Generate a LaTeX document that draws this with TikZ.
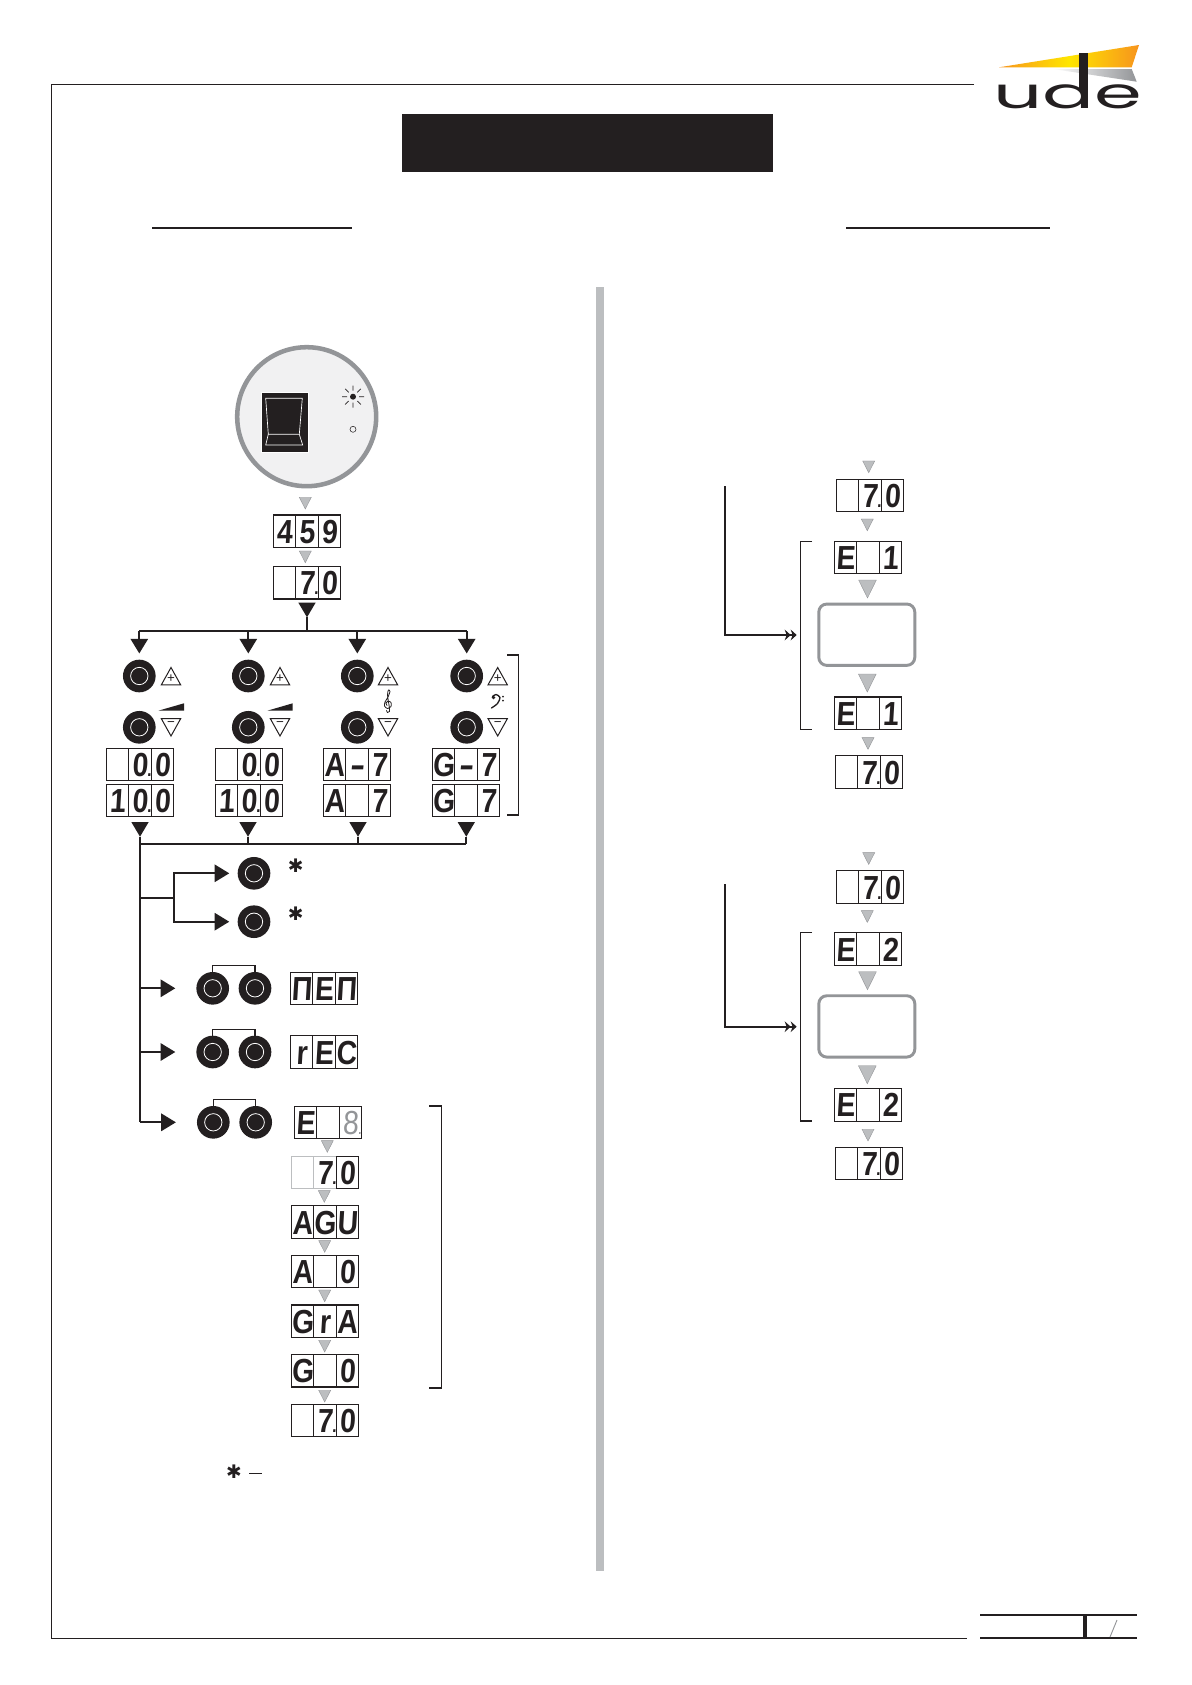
\documentclass[tikz,border=0pt]{standalone}
\usepackage{fontspec}
\setmainfont{Liberation Sans}
\newfontfamily\lcdfont[FakeSlant=0.06,FakeStretch=0.85]{Liberation Sans Bold}
\newfontfamily\lcdthin[FakeSlant=0.06,FakeStretch=0.85]{Liberation Sans}
\newfontfamily\symfont{DejaVu Sans}
\newfontfamily\logofont{Poppins}
\usetikzlibrary{positioning,shapes.geometric,arrows.meta}
\definecolor{ink}{HTML}{231F20}
\definecolor{barcol}{HTML}{BCBEC0}
\definecolor{midcol}{HTML}{939598}
\definecolor{discol}{HTML}{F1F1F2}
\definecolor{swooshend}{HTML}{F7941D}
\definecolor{swooshmid}{HTML}{FFE600}
% decimal point that sits on the cell edge
\newcommand{\lcdpoint}{\rlap{\kern-0.5pt\fontsize{14}{14}\selectfont .}}
% display of three cells: name, top left corner, three characters
\newcommand{\lcd}[6][cell]{%
    \node[#1, anchor=north west] (#2a) at #3 {#4};
    \node[#1, right=0pt of #2a] (#2b) {#5};
    \node[cell, right=0pt of #2b] (#2c) {#6};
}
% pair of buttons with their up and down keys: name, button x, key x
\newcommand{\keypair}[3]{%
    \node[btn] (#1up) at (#2,676) {};
    \node[btn] (#1dn) at (#2,727.3) {};
    \node[upkey, anchor=apex] (#1plus) at (#3,667.5) {};
    \node[sign] (#1plussign) at (#3,678.5) {+};
    \node[dnkey, anchor=apex] (#1minus) at (#3,736) {};
    \node[sign] (#1minussign) at (#3,724) {−};
}
% right hand block: name, vertical offset, number, start of the feed line
\newcommand{\eblock}[4]{%
    \begin{scope}[yshift=-#2*0.75pt]
    \node[graytri, anchor=apex] (#1t1) at (868.7,472.7) {};
    \lcd{#1start}{(836.3,479.2)}{}{7\lcdpoint}{0}
    \node[graytri, anchor=apex] (#1t2) at (867.3,530.7) {};
    \lcd{#1open}{(834.3,541.2)}{E}{}{#3}
    \node[biggray, anchor=apex] (#1t3) at (867.5,598) {};
    \node[panel] (#1panel) at (866.8,634.7) {};
    \node[biggray, anchor=apex] (#1t4) at (867.3,692) {};
    \lcd{#1close}{(834.3,697)}{E}{}{#3}
    \node[graytri, anchor=apex] (#1t5) at (868,749.3) {};
    \lcd{#1end}{(835.3,755.8)}{}{7\lcdpoint}{0}
    \coordinate (#1in) at (725,#4);
    \coordinate (#1tip) at (796.7,635);
    \draw[wire, line width=1.7pt, -{Stealth[length=4.5pt,width=8pt]Stealth[length=4.5pt,width=8pt]}] (#1in) |- (#1tip);
    \draw[bracket] (812,541.2) -- (800.7,541.2) -- (800.7,729.3) -- (812,729.3);
    \end{scope}
}
\begin{document}
\begin{tikzpicture}[
    x=0.75pt, y=-0.75pt,
    cell/.style={rectangle, draw=ink, line width=0.8pt, minimum width=16.85pt, minimum height=24.3pt, inner sep=0pt, outer sep=0pt, text height=18pt, text depth=0pt, text=ink, font=\lcdfont\fontsize{25}{25}\selectfont},
    graycell/.style={cell, draw=barcol},
    btn/.style={circle, fill=ink, minimum size=24.5pt, inner sep=0pt, outer sep=0pt, path picture={\draw[white, line width=0.6pt] (path picture bounding box.center) circle (6.5pt);}},
    tri/.style={isosceles triangle, isosceles triangle stretches, shape border rotate=270, inner sep=0pt, outer sep=0pt},
    graytri/.style={tri, fill=barcol, draw=midcol, line width=0.3pt, minimum width=9pt, minimum height=8.8pt},
    biggray/.style={tri, fill=barcol, draw=midcol, line width=0.3pt, minimum width=13.3pt, minimum height=13.5pt},
    blacktri/.style={tri, fill=ink, minimum width=13pt, minimum height=11pt},
    upkey/.style={isosceles triangle, isosceles triangle stretches, shape border rotate=90, inner sep=0pt, outer sep=0pt, draw=ink, line width=0.75pt, minimum width=14.5pt, minimum height=13pt},
    dnkey/.style={tri, draw=ink, line width=0.75pt, minimum width=14.5pt, minimum height=13pt},
    sign/.style={inner sep=0pt, text=ink, font=\fontsize{10}{10}\selectfont},
    star/.style={inner sep=0pt, text=ink, font=\symfont\bfseries\fontsize{14}{14}\selectfont},
    panel/.style={rectangle, rounded corners=6pt, draw=midcol, line width=2.2pt, minimum width=72pt, minimum height=46pt},
    wire/.style={draw=ink, line width=1.5pt},
    link/.style={draw=ink, line width=0.8pt},
    bracket/.style={draw=ink, line width=0.8pt},
    arrow/.style={draw=ink, line width=1.5pt, -{Triangle[length=11pt,width=13pt]}}
]
    \useasboundingbox (0,0) rectangle (1192,1685);
    \fill[white] (0,0) rectangle (1192,1685);

    % Page frame and headings
    \draw[ink, line width=0.7pt] (974,84) -- (51,84) -- (51,1638) -- (967,1638);
    \node[rectangle, fill=ink, minimum width=278.25pt, minimum height=43.5pt, inner sep=0pt] (title) at (587.5,143) {};
    \draw[ink, line width=2.1pt] (152,228) -- (351.5,228);
    \draw[ink, line width=2.1pt] (846,228) -- (1050,228);
    \fill[barcol] (595.5,287) rectangle (604,1571);

    % Logo
    \shade[left color=swooshend, right color=swooshend, middle color=swooshmid] (999,67.3) -- (1139,45) -- (1131.7,67.3) -- cycle;
    \shade[left color=white, right color=midcol] (1053,69) -- (1131.7,69) -- (1136.7,81.7) -- cycle;
    \node[inner sep=0pt, anchor=base, text=ink, font=\logofont\fontsize{32}{32}\selectfont] (logo) at (1068,108.3) {\scalebox{1.8}[1]{ude}};
    \fill[ink] (1079,52.7) rectangle (1088,90);

    % Footer
    \draw[ink, line width=0.8pt] (980,1615) -- (1137,1615);
    \draw[ink, line width=0.8pt] (980,1638) -- (1137,1638);
    \draw[ink, line width=3pt] (1085,1615) -- (1085,1638);
    \draw[midcol, line width=0.7pt] (1117,1620) -- (1110,1637);

    % Power switch
    \draw[midcol, fill=discol, line width=3.4pt] (306.7,416.7) circle (69.5);
    \node[rectangle, fill=ink, draw=white, line width=0.4pt, minimum width=35.25pt, minimum height=44.4pt, inner sep=0pt] (switch) at (284.5,422.3) {};
    \draw[white, line width=0.5pt] (265.7,398.3) -- (302.3,398.3) -- (299.3,434.3) -- (268.3,434.3) -- cycle;
    \draw[white, line width=0.5pt] (268.3,434.3) -- (265.7,445) -- (302.7,445) -- (299.3,434.3);
    \fill[ink] (353,396.7) circle (3);
    \draw[ink, line width=0.5pt] (342,396.7) -- ++(5,0) (359,396.7) -- ++(5,0) (353,385.7) -- ++(0,5) (353,402.7) -- ++(0,5)
        (345.2,388.9) -- ++(3.5,3.5) (357.3,401) -- ++(3.5,3.5) (345.2,404.5) -- ++(3.5,-3.5) (357.3,392.4) -- ++(3.5,-3.5);
    \draw[ink, line width=0.4pt] (353,429.3) circle (3);

    % Start up displays
    \node[graytri, anchor=apex] (upa) at (305.3,509) {};
    \lcd{bootfirst}{(273.3,515)}{4}{5}{9}
    \node[graytri, anchor=apex] (upb) at (305.3,562.7) {};
    \lcd{boot}{(273.3,566.6)}{}{7\lcdpoint}{0}
    \node[blacktri, anchor=apex] (bootdown) at (307,617.3) {};

    % Upper bus
    \coordinate (busmid) at (307,631);
    \coordinate (tapa) at (139.3,631);
    \coordinate (tapb) at (248.3,631);
    \coordinate (tapc) at (357.3,631);
    \coordinate (tapd) at (466.7,631);
    \draw[wire] (tapa) -- (tapd);
    \draw[wire] (bootdown.apex) -- (busmid);
    \draw[arrow, shorten >=4.7pt] (tapa) -- (tapa |- 0,659.7);
    \draw[arrow, shorten >=4.7pt] (tapb) -- (tapb |- 0,659.7);
    \draw[arrow, shorten >=4.7pt] (tapc) -- (tapc |- 0,659.7);
    \draw[arrow, shorten >=4.7pt] (tapd) -- (tapd |- 0,659.7);

    % Adjusting keys
    \keypair{vola}{139.3}{171}
    \keypair{volb}{248.3}{280}
    \keypair{treble}{357.3}{388}
    \keypair{bass}{466.7}{497.7}
    \fill[ink] (158.3,710.7) -- (184,710.7) -- (184,703.3) -- cycle;
    \fill[ink] (267.3,710.7) -- (292.7,710.7) -- (292.7,703.3) -- cycle;
    \draw[ink, line width=0.6pt, line cap=round] plot[smooth] coordinates {(386.5,710.5) (387.5,712.5) (389.5,711.5) (389.3,707) (387.5,695) (388.5,690) (390,691.5) (388,697) (385,702) (384.5,706) (387.5,708.5) (391,706.5) (391,702.5) (388,701) (386,703) (387,705.5)};
    \fill[ink] (493.5,697.5) circle (1.9);
    \draw[ink, line width=1pt, line cap=round] plot[smooth] coordinates {(492.5,696.5) (496,694.5) (500,697.5) (497.5,703.5) (491.5,708)};
    \fill[ink] (503,696.5) circle (1) (503,700.5) circle (1);
    \draw[bracket] (507.3,655) -- (518.3,655) -- (518.3,815) -- (507.3,815);

    % Level displays
    \lcd{lowa}{(106.3,748.3)}{}{0\lcdpoint}{0}
    \lcd{higha}{(106.3,784.3)}{1}{0\lcdpoint}{0}
    \lcd{lowb}{(215.3,748.3)}{}{0\lcdpoint}{0}
    \lcd{highb}{(215.3,784.3)}{1}{0\lcdpoint}{0}
    \lcd{lowc}{(323.3,748.3)}{A}{\scalebox{1.6}[1]{-}}{7}
    \lcd{highc}{(323.3,784.3)}{A}{}{7}
    \lcd{lowd}{(432.3,748.3)}{G}{\scalebox{1.6}[1]{-}}{7}
    \lcd{highd}{(432.3,784.3)}{G}{}{7}

    % Lower bus
    \node[blacktri, anchor=apex] (outa) at (140,836.7) {};
    \node[blacktri, anchor=apex] (outb) at (248,836.7) {};
    \node[blacktri, anchor=apex] (outc) at (358,836.7) {};
    \node[blacktri, anchor=apex] (outd) at (466.3,836.7) {};
    \coordinate (busa) at (140,843.7);
    \coordinate (busb) at (248,843.7);
    \coordinate (busc) at (358,843.7);
    \coordinate (busd) at (466.3,843.7);
    \draw[wire] (busa) -- (busd);
    \draw[wire] (outa.apex) -- (busa);
    \draw[wire] (outb.apex) -- (busb);
    \draw[wire] (outc.apex) -- (busc);
    \draw[wire] (outd.apex) -- (busd);
    \coordinate (trunkend) at (140,1122.3);
    \draw[wire] (busa) -- (trunkend);

    % Memory buttons
    \coordinate (fork) at (140,897.7);
    \coordinate (forkmid) at (173.7,897.7);
    \node[btn] (presetup) at (254,873.3) {};
    \node[btn] (presetdn) at (254,921.7) {};
    \node[star] (starup) at (295.7,865.5) {✱};
    \node[star] (stardn) at (295.7,913.5) {✱};
    \draw[wire] (fork) -- (forkmid);
    \draw[arrow, shorten >=6.3pt] (forkmid) |- (presetup);
    \draw[arrow, shorten >=6.3pt] (forkmid) |- (presetdn);

    \node[btn] (memleft) at (212.7,988.3) {};
    \node[btn] (memright) at (255,988.3) {};
    \coordinate (memtap) at (140,988.3);
    \draw[arrow, shorten >=15.8pt] (memtap) -- (memleft);
    \draw[link] (memleft) -- ++(0,-22.6) -| (memright);
    \lcd{memdisp}{(290.3,972.3)}{Π}{E}{Π}

    \node[btn] (recleft) at (212.7,1052) {};
    \node[btn] (recright) at (255,1052) {};
    \coordinate (rectap) at (140,1052);
    \draw[arrow, shorten >=15.8pt] (rectap) -- (recleft);
    \draw[link] (recleft) -- ++(0,-22.7) -| (recright);
    \lcd{recdisp}{(290.3,1035.9)}{r}{E}{C}

    \node[btn] (factleft) at (213.3,1122.3) {};
    \node[btn] (factright) at (255.7,1122.3) {};
    \draw[arrow, shorten >=15.8pt] (trunkend) -- (factleft);
    \draw[link] (factleft) -- ++(0,-23) -| (factright);

    % Reset sequence
    \lcd{seqa}{(294.3,1106.2)}{E}{}{\lcdthin\textcolor{midcol}{8\lcdpoint}}
    \node[graytri, anchor=apex] (seqta) at (327.3,1152.3) {};
    \lcd[graycell]{seqb}{(291.3,1156.2)}{}{7\lcdpoint}{0}
    \node[graytri, anchor=apex] (seqtb) at (324.3,1202.3) {};
    \lcd{seqc}{(291.3,1205.8)}{A}{G}{U}
    \node[graytri, anchor=apex] (seqtc) at (324.7,1252.3) {};
    \lcd{seqd}{(291.3,1255.4)}{A}{}{0}
    \node[graytri, anchor=apex] (seqtd) at (324.7,1301.7) {};
    \lcd{seqe}{(291.3,1305)}{G}{r}{A}
    \node[graytri, anchor=apex] (seqte) at (324.7,1352) {};
    \lcd{seqf}{(291.3,1354.6)}{G}{}{0}
    \node[graytri, anchor=apex] (seqtf) at (324.7,1402) {};
    \lcd{seqg}{(291.3,1404.2)}{}{7\lcdpoint}{0}
    \draw[bracket] (429,1106) -- (441.7,1106) -- (441.7,1388) -- (429,1388);

    % Footnote mark
    \node[star] (note) at (234,1472) {✱};
    \coordinate (notedash) at (249,1473.3);
    \draw[ink, line width=0.8pt] (notedash) -- ++(13,0);

    % Right hand blocks
    \eblock{first}{0}{1}{486}
    \eblock{second}{391.7}{2}{492.3}
\end{tikzpicture}
\end{document}
